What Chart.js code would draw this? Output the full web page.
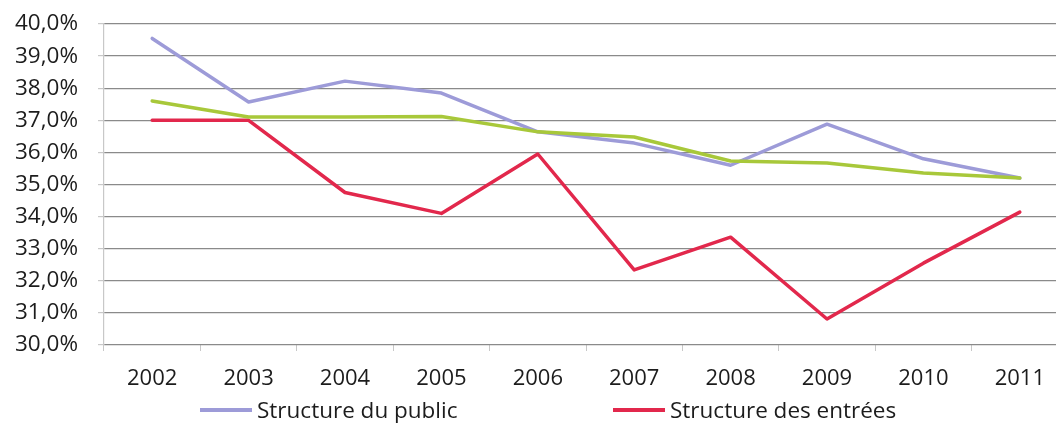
<!DOCTYPE html>
<html>
<head>
<meta charset="utf-8">
<script src="https://cdn.jsdelivr.net/npm/chart.js@4/dist/chart.umd.min.js"></script>
<style>
  html, body { margin: 0; padding: 0; background: #fff; overflow: hidden; }
  #wrap { position: relative; width: 1070px; height: 423px; }
</style>
</head>
<body>
<div id="wrap"><canvas id="c"></canvas></div>
<script>
// Années (axe des abscisses)
const years = ['2002', '2003', '2004', '2005', '2006', '2007', '2008', '2009', '2010', '2011'];

// Séries (en %)
const structurePublic  = [39.55, 37.57, 38.22, 37.85, 36.64, 36.29, 35.60, 36.88, 35.80, 35.20];
const structureEntrees = [37.00, 37.00, 34.75, 34.10, 35.95, 32.34, 33.36, 30.81, 32.55, 34.14];
const serieVerte       = [37.60, 37.10, 37.10, 37.12, 36.64, 36.48, 35.73, 35.67, 35.36, 35.20];

// Axe des ordonnées
const yMin = 30;
const yMax = 40;
const yStep = 1;

const FONT = '"Open Sans", Lato, sans-serif';
const TEXT_COLOR = '#1c1c1c';
const COL_PUBLIC = '#9d9bd8';
const COL_ENTREES = '#e2284c';
const COL_VERT = '#a8c83a';

// Légende dessinée sous le graphique (trait + libellé)
const lineLegend = {
  id: 'lineLegend',
  afterDraw(chart, args, opts) {
    const ctx = chart.ctx;
    ctx.save();
    ctx.font = opts.font;
    ctx.textBaseline = 'alphabetic';
    ctx.textAlign = 'left';
    opts.items.forEach(item => {
      const ds = chart.data.datasets[item.index];
      ctx.strokeStyle = ds.borderColor;
      ctx.lineWidth = 4;
      ctx.beginPath();
      ctx.moveTo(item.x, opts.y);
      ctx.lineTo(item.x + opts.lineLength, opts.y);
      ctx.stroke();
      ctx.fillStyle = TEXT_COLOR;
      ctx.fillText(ds.label, item.x + opts.lineLength + 5, opts.y + 8);
    });
    ctx.restore();
  }
};

new Chart(document.getElementById('c'), {
  type: 'line',
  data: {
    labels: years,
    datasets: [
      { label: 'Structure du public', data: structurePublic, borderColor: COL_PUBLIC, order: 2 },
      { label: 'Structure des entrées', data: structureEntrees, borderColor: COL_ENTREES, order: 1 },
      { label: 'Série 3', data: serieVerte, borderColor: COL_VERT, order: 0 }
    ]
  },
  options: {
    responsive: true,
    maintainAspectRatio: false,
    animation: false,
    devicePixelRatio: 1,
    elements: {
      line: { borderWidth: 3.5, tension: 0, borderCapStyle: 'round', borderJoinStyle: 'round' },
      point: { radius: 0, hoverRadius: 0 }
    },
    layout: { padding: { top: 24, right: 2, bottom: 0, left: 0 } },
    plugins: {
      legend: { display: false },
      tooltip: { enabled: false },
      lineLegend: {
        font: '22.5px ' + FONT,
        y: 410,
        lineLength: 52,
        items: [ { index: 0, x: 200 }, { index: 1, x: 613 } ]
      }
    },
    scales: {
      x: {
        offset: true,
        grid: {
          offset: true,
          drawOnChartArea: false,
          drawTicks: true,
          tickLength: 6,
          color: '#c8c8c8',
          lineWidth: 1
        },
        border: { display: false },
        ticks: {
          color: TEXT_COLOR,
          font: { family: FONT, size: 22 },
          padding: 15,
          maxRotation: 0,
          autoSkip: false
        },
        afterFit(scale) { scale.height = 78; scale.paddingLeft = 0; scale.paddingRight = 0; }
      },
      y: {
        min: yMin,
        max: yMax,
        grid: {
          color: '#8a8a8a',
          lineWidth: 1.2,
          tickLength: 6,
          tickColor: '#c8c8c8'
        },
        border: { display: true, color: '#c8c8c8', width: 1.2 },
        ticks: {
          stepSize: yStep,
          color: TEXT_COLOR,
          font: { family: FONT, size: 22.5 },
          padding: 20,
          callback: v => v.toFixed(1).replace('.', ',') + '%'
        },
        afterFit(scale) { scale.width = 104; scale.paddingTop = 0; scale.paddingBottom = 0; }
      }
    }
  },
  plugins: [lineLegend]
});
</script>
</body>
</html>
